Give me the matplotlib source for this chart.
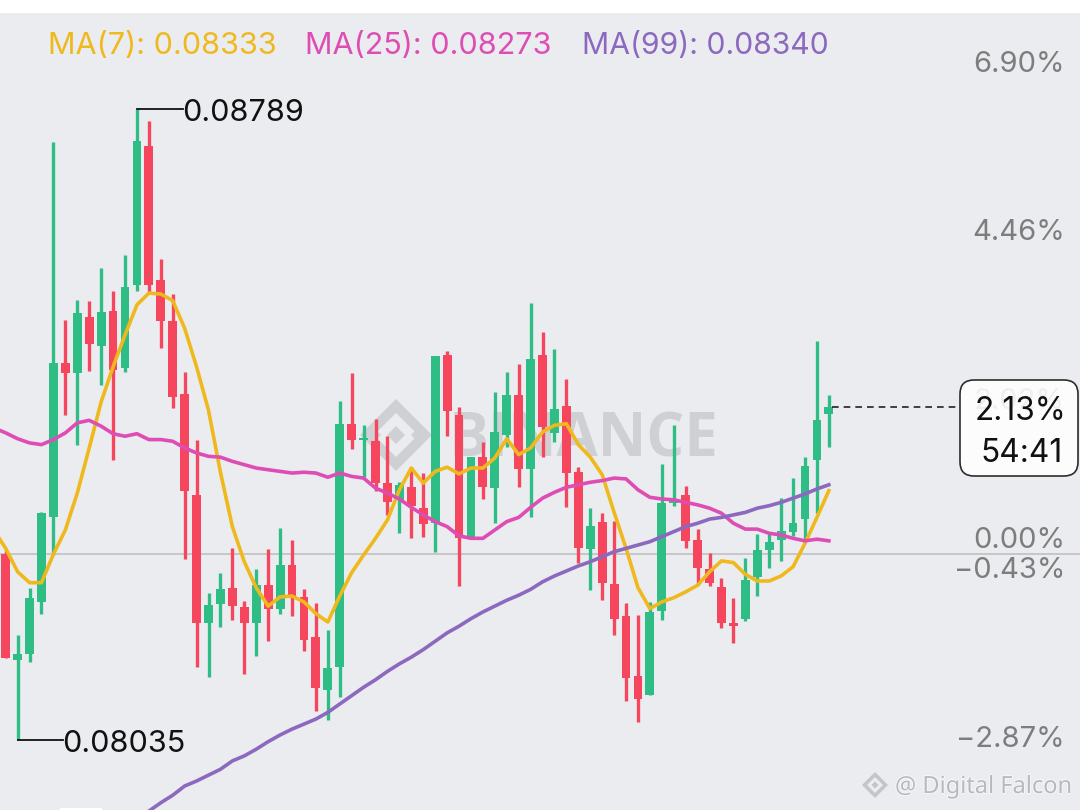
import matplotlib
matplotlib.use("Agg")
import matplotlib.pyplot as plt
from matplotlib.patches import Polygon, FancyBboxPatch
import matplotlib.patheffects as pe

# prices in 1e-5 units
opens = [8257,8131,8138,8200,8301,8486,8474,8540,8506,8548,8480,8579,8745,8585,8536,8448,8328,8175,8198,8217,
         8194,8175,8220,8192,8244,8206,8158,8095,8122,8413,8394,8392,8342,8322,8337,8312,8294,8495,8423,8276,
         8373,8336,8399,8447,8359,8495,8402,8434,8355,8263,8296,8221,8183,8111,8089,8189,8318,8328,8274,8239,
         8218,8175,8180,8230,8262,8274,8284,8299,8370,8425]
closes = [8133,8138,8205,8306,8486,8474,8545,8508,8546,8477,8576,8751,8579,8536,8445,8333,8175,8196,8215,8195,
          8175,8220,8192,8244,8207,8155,8097,8121,8413,8394,8396,8342,8319,8340,8315,8293,8494,8428,8276,8373,
          8337,8403,8447,8359,8490,8409,8431,8354,8264,8291,8223,8180,8109,8084,8188,8318,8323,8273,8241,8223,
          8175,8171,8226,8262,8272,8285,8294,8362,8417,8433]
highs = [8262,8160,8217,8307,8750,8537,8561,8560,8599,8572,8615,8789,8775,8610,8568,8475,8394,8211,8235,8264,
         8201,8239,8263,8288,8274,8215,8199,8166,8440,8474,8411,8419,8398,8343,8361,8354,8494,8500,8433,8373,
         8391,8451,8475,8484,8557,8523,8502,8466,8361,8312,8306,8297,8199,8184,8200,8365,8411,8339,8287,8258,
         8229,8205,8252,8281,8281,8324,8348,8373,8512,8447]
lows = [8133,8035,8128,8186,8256,8423,8388,8476,8459,8370,8475,8572,8569,8503,8432,8251,8122,8110,8170,8178,
        8114,8135,8153,8186,8183,8141,8070,8059,8086,8383,8349,8333,8304,8282,8276,8278,8260,8398,8219,8276,
        8323,8294,8385,8337,8301,8373,8391,8313,8247,8214,8202,8160,8082,8057,8089,8178,8315,8264,8220,8219,
        8169,8151,8177,8207,8241,8249,8279,8274,8306,8385]

# moving averages, first value belongs to the candle before the first one shown
ma7 = [8286,8264,8236,8223,8223,8257,8286,8330,8384,8439,8481,8519,8555,8569,8568,8560,8527,8481,8429,8355,
       8290,8248,8217,8195,8206,8207,8200,8186,8176,8207,8235,8256,8276,8298,8334,8360,8342,8356,8361,8353,
       8360,8360,8372,8395,8376,8384,8403,8411,8413,8388,8373,8352,8307,8264,8217,8192,8200,8205,8212,8220,
       8236,8249,8247,8233,8225,8225,8231,8242,8270,8301,8333]
ma25 = [8408,8402,8395,8390,8388,8394,8402,8414,8417,8410,8401,8398,8401,8394,8394,8392,8384,8378,8374,8373,
        8368,8364,8360,8358,8356,8354,8355,8354,8349,8354,8350,8348,8336,8330,8323,8313,8304,8296,8290,8279,
        8276,8276,8286,8296,8301,8313,8324,8331,8337,8340,8343,8345,8348,8347,8334,8325,8323,8322,8319,8316,
        8312,8306,8294,8287,8287,8282,8280,8276,8273,8275,8273]
ma99_start = 11
ma99 = [7942,7950,7960,7969,7980,7986,7993,8000,8010,8016,8024,8033,8041,8048,8054,8060,8068,8078,8088,8098,
        8107,8117,8126,8134,8143,8153,8163,8171,8180,8188,8195,8202,8208,8215,8224,8231,8237,8243,8248,8254,
        8260,8264,8268,8272,8278,8284,8290,8294,8299,8301,8304,8307,8312,8315,8319,8324,8329,8335,8340]

pct_labels = ["6.90%", "4.46%", "2.02%", "\u22120.43%", "\u22122.87%"]
pct_values = [6.90, 4.46, 2.02, -0.43, -2.87]
zero_price = 8257.3
last_pct = "2.13%"
countdown = "54:41"
last_price = 8433
ma_labels = ["MA(7): 0.08333", "MA(25): 0.08273", "MA(99): 0.08340"]
high_label, low_label = "0.08789", "0.08035"
high_idx, low_idx = 11, 1

BG = "#EBECF0"
GREEN = "#2EBD85"
RED = "#F6465D"
YEL = "#EFB91E"
PINK = "#DE4DB4"
PUR = "#8C69BE"
FONT = "Inter"

fig = plt.figure(figsize=(10.8, 8.1), dpi=100, facecolor="white")
ax = fig.add_axes([0, 0, 1, 1])
ax.set_facecolor(BG)
ax.set_xlim(-0.478, 90.53 - 0.478)
ax.set_ylim(7951.35, 8919.3)
ax.axis("off")
ax.add_patch(plt.Rectangle((0, 0), 1, 1, transform=fig.transFigure, color=BG, zorder=0, lw=0))
ax.add_patch(plt.Rectangle((0, 797/810), 1, 13/810, transform=fig.transFigure, color="white", zorder=0.5, lw=0))
ax.add_patch(plt.Rectangle((60/1080, 0), 42/1080, 2/810, transform=fig.transFigure, color="white", zorder=0.5, lw=0))

def px(x, y):
    return x / 1080, 1 - y / 810

def ftext(x, y, s, **kw):
    return ax.text(*px(x, y), s, transform=fig.transFigure, clip_on=False, **kw)

# Watermark logo
WM = "#CFD0D4"
def diamond(cx, cy, r, inner=None, color=WM, z=1):
    pts = [px(cx, cy - r), px(cx + r, cy), px(cx, cy + r), px(cx - r, cy)]
    ax.add_patch(Polygon(pts, closed=True, transform=fig.transFigure, color=color, lw=0, zorder=z))
    if inner:
        pts = [px(cx, cy - inner), px(cx + inner, cy), px(cx, cy + inner), px(cx - inner, cy)]
        ax.add_patch(Polygon(pts, closed=True, transform=fig.transFigure, color=BG, lw=0, zorder=z))
diamond(396, 435, 36, 22)
diamond(396, 435, 9)
diamond(372, 435, 9)
diamond(420, 435, 9)
ftext(449, 441, "BINANCE", fontsize=43, fontweight="bold", family="Open Sans", color=WM, va="center", ha="left", zorder=1)

# zero line
ax.axhline(zero_price, color="#C4C4C6", lw=1.3, zorder=2)

# candles
for i, (o, c, h, l) in enumerate(zip(opens, closes, highs, lows)):
    col = GREEN if c >= o else RED
    ax.vlines(i, l, h, color=col, lw=2.4, zorder=3)
    ax.bar(i, abs(c - o), bottom=min(o, c), width=0.74, color=col, lw=0, zorder=3)

# MAs
ax.plot(range(-1, 70), ma7, color=YEL, lw=2.6, zorder=4, solid_joinstyle="round")
ax.plot(range(-1, 70), ma25, color=PINK, lw=2.6, zorder=4, solid_joinstyle="round")
ax.plot(range(ma99_start, 70), ma99, color=PUR, lw=2.6, zorder=4, solid_joinstyle="round")

# High / low markers
ax.plot([high_idx, 14.86], [highs[high_idx]] * 2, color="#111111", lw=1.3, zorder=6)
ax.plot([low_idx, 4.8], [lows[low_idx]] * 2, color="#111111", lw=1.3, zorder=6)
ftext(182, 113, high_label, fontsize=22, family=FONT, color="#111111", va="center", ha="left", zorder=6)
ftext(62, 744, low_label, fontsize=22, family=FONT, color="#111111", va="center", ha="left", zorder=6)

# legend
for x0, lab, col, fs in zip([48, 305, 582], ma_labels, [YEL, PINK, PUR], [22, 22, 21.7]):
    ftext(x0, 46, lab, fontsize=fs, family=FONT, color=col, va="center", ha="left", zorder=6)

# percent labels
for lab, v in zip(pct_labels, pct_values):
    y = ax.transData.transform((0, zero_price * (1 + v / 100)))[1]
    ax.text(1065 / 1080, (y + 13) / 810, lab, transform=fig.transFigure, fontsize=21, family=FONT,
            color="#7D7D7D", va="center", ha="right", zorder=6)
ftext(1065, 541, "0.00%", fontsize=21, family=FONT, color="#7D7D7D", va="center", ha="right", zorder=6)

# last-price line and box
ax.plot([69.3, 79.99], [last_price, last_price], color="#222222", lw=1.2, ls=(0, (4, 3)), zorder=5)
box = FancyBboxPatch((960 / 1080, 1 - 476 / 810), 118 / 1080, 96 / 810,
                     boxstyle="round,pad=0,rounding_size=0.0130", mutation_aspect=1.33, transform=fig.transFigure,
                     fc="white", ec="#111111", lw=1.2, alpha=0.88, zorder=7)
ax.add_patch(box)
ftext(1066, 411, last_pct, fontsize=22.8, family=FONT, color="#111111", va="center", ha="right", zorder=8)
ftext(1063, 453, countdown, fontsize=22.8, family=FONT, color="#111111", va="center", ha="right", zorder=8)

# bottom-right credit
diamond(875, 785, 13, 8, color="#C4C5C9", z=6)
diamond(875, 785, 3.5, color="#C4C5C9", z=6)
ftext(895, 787, "@ Digital Falcon", fontsize=17, family="Noto Sans", color="#B8B9BD", va="center", ha="left", zorder=6,
      path_effects=[pe.withStroke(linewidth=1.5, foreground="#F6F6F8")])

fig.savefig("out.png", dpi=100, facecolor="white")
